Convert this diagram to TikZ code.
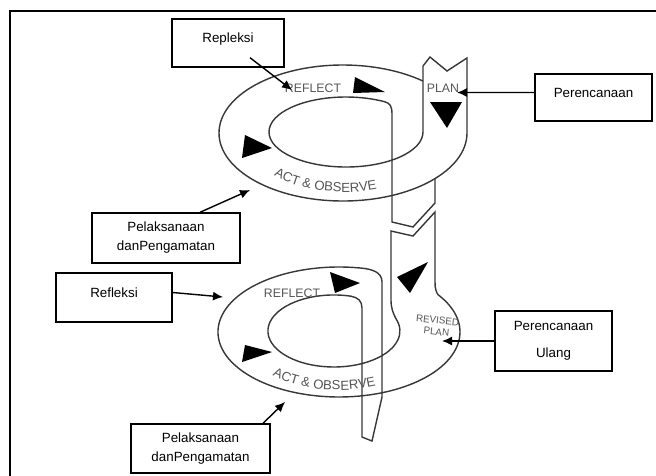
\documentclass[tikz,border=0pt]{standalone}
\usepackage{fontspec}
\setmainfont{Liberation Sans}
\usepackage{tikz}
\usetikzlibrary{
        arrows.meta,
        decorations.text
    }
\definecolor{lblgray}{RGB}{85,85,85}
\definecolor{linegray}{RGB}{55,55,55}
\newcommand{\lblfont}{\fontsize{7}{8}\selectfont}
\newcommand{\actfont}{\fontsize{7.5}{8}\selectfont}

\begin{document}
\begin{tikzpicture}
[x=0.2mm, y=-0.2mm,
box/.style={rectangle, draw=black, line width=0.8pt, font=\fontsize{7.6}{10.8}\selectfont, align=center, inner sep=0pt},
boxone/.style={box, text depth=2mm},
arrow/.style={line width=0.8pt, -{Latex[length=2mm, width=1.8mm]}},
band/.style={draw=linegray, line width=0.8pt},
tri/.style={fill=black},
lbl/.style={text=lblgray, font=\lblfont, inner sep=0pt},
]
\useasboundingbox (0,0) rectangle (656,475);
\draw[line width=1.3pt] (10,11) rectangle (690,500);

% upper cycle
\draw[band] (423,66) -- (430,57) -- (447,71) -- (467,58) -- (467,133)
  arc[start angle=0, end angle=310.2, x radius=124, y radius=68];
\draw[band] (423,66) -- (423,132)
  arc[start angle=0, end angle=300, x radius=77, y radius=35]
  .. controls (390,103.2) and (392,106) .. (392,114)
  -- (392,222) -- (413,227) -- (435,203) -- (435,178.6);

% lower cycle
\draw[band] (413,236) -- (435,212) -- (435,282)
  .. controls (435,288) and (436,292) .. (438.1,294.7)
  arc[start angle=325, end angle=640, x radius=121, y radius=65]
  .. controls (372,269) and (382,272) .. (382,282)
  -- (382,397) -- (372,441) -- (362,437) -- (362,308)
  .. controls (362,301) and (358,297.5) .. (351,296.2)
  arc[start angle=645, end angle=340, x radius=66, y radius=36]
  .. controls (393,313) and (391,308) .. (391,300)
  -- (391,231) -- cycle;

\fill[tri] (355,77) -- (353,93) -- (385,92) -- cycle;
\fill[tri] (430,102) -- (462,102) -- (447,128) -- cycle;
\fill[tri] (245,135) -- (242,158) -- (272,148) -- cycle;
\fill[tri] (330,272) -- (335,293) -- (360,283) -- cycle;
\fill[tri] (428,262) -- (397,277) -- (410,293) -- cycle;
\fill[tri] (245,345) -- (242,362) -- (272,352) -- cycle;

\node[lbl] (reflectA) at (313,88) {REFLECT};
\node[lbl] (planA) at (443,88) {PLAN};
\node[lbl] (reflectB) at (292,293) {REFLECT};
\node[lbl, font=\fontsize{5.6}{6.5}\selectfont, align=center, rotate=-6] (revplan) at (437,326) {REVISED\\PLAN};
\path[decorate, decoration={text along path, text align=center,
  text={|\actfont\color{lblgray}|ACT {\&} OBSERVE}}]
  (257.7,163.7) arc[start angle=148.7, end angle=58.7, x radius=101, y radius=59];
\path[decorate, decoration={text along path, text align=center,
  text={|\actfont\color{lblgray}|ACT {\&} OBSERVE}}]
  (256.1,364.4) arc[start angle=146, end angle=56, x radius=100, y radius=58];

\coordinate (reflectTip) at (292,90);
\coordinate (planTip) at (457,92.5);
\coordinate (actTipA) at (250,190);
\coordinate (reflectTipB) at (223,297);
\coordinate (revplanTip) at (442,341);
\coordinate (actTipB) at (285,402);

\node[boxone, minimum width=22.4mm, minimum height=9.6mm] (repleksi) at (228,43) {Repleksi};
\node[boxone, minimum width=23.4mm, minimum height=9.4mm] (perencanaan) at (593.5,97.5) {Perencanaan};
\node[box, minimum width=29.6mm, minimum height=10mm] (pelaksanaanA) at (166,238) {Pelaksanaan\\danPengamatan};
\node[boxone, minimum width=23.2mm, minimum height=9.8mm] (refleksi) at (114,297.5) {Refleksi};
\node[box, minimum width=23.4mm, minimum height=12mm] (perencanaanUlang) at (553.5,341) {Perencanaan\\[4.5pt]Ulang};
\node[box, minimum width=27.8mm, minimum height=9.8mm] (pelaksanaanB) at (200.5,448.5) {Pelaksanaan\\danPengamatan};

\draw[arrow] ([xshift=4.4mm,yshift=2mm]repleksi.south) -- (reflectTip);
\draw[arrow] ([yshift=1mm]perencanaan.west) -- (planTip);
\draw[arrow] ([xshift=6.8mm]pelaksanaanA.north) -- (actTipA);
\draw[arrow] ([yshift=1mm]refleksi.east) -- (reflectTipB);
\draw[arrow] (perencanaanUlang.west) -- (revplanTip);
\draw[arrow] ([xshift=12.5mm]pelaksanaanB.north) -- (actTipB);
\end{tikzpicture}
\end{document}
